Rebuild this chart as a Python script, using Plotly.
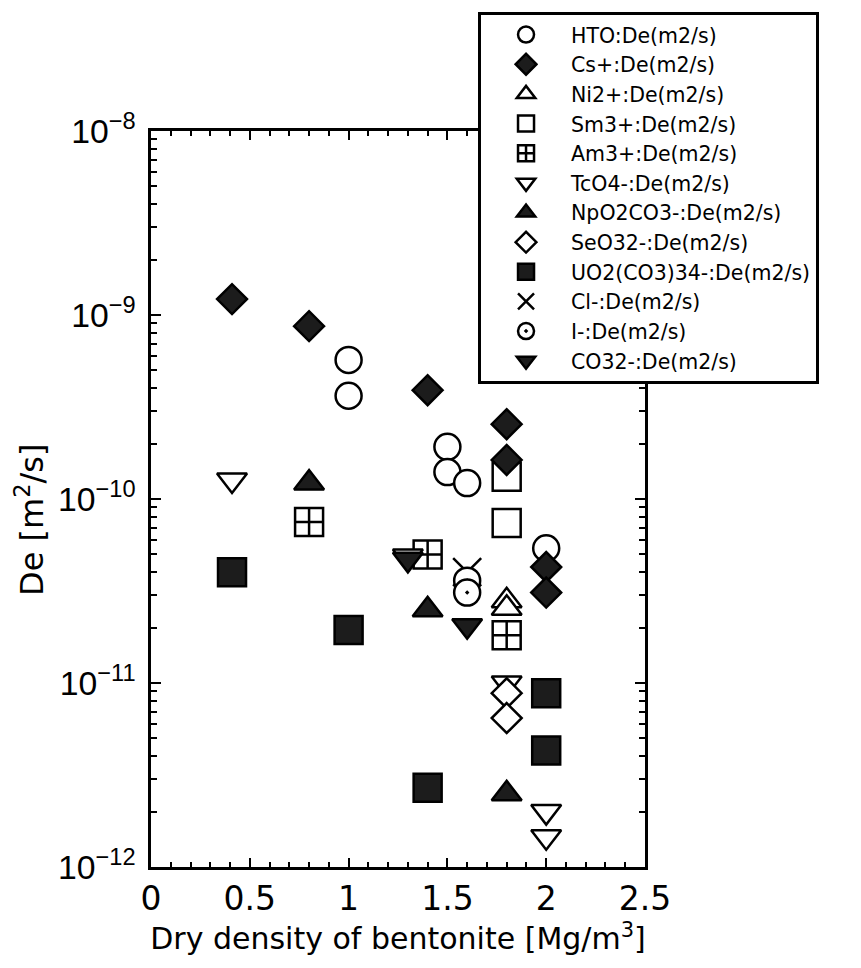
import plotly.graph_objects as go

# ---- data (dry density [Mg/m3], De [m2/s]) ----
species = ["HTO:De(m2/s)", "Cs+:De(m2/s)", "Ni2+:De(m2/s)", "Sm3+:De(m2/s)",
           "Am3+:De(m2/s)", "TcO4-:De(m2/s)", "NpO2CO3-:De(m2/s)", "SeO32-:De(m2/s)",
           "UO2(CO3)34-:De(m2/s)", "Cl-:De(m2/s)", "I-:De(m2/s)", "CO32-:De(m2/s)"]

hto_x = [1.0, 1.0, 1.5, 1.5, 1.6, 2.0]
hto_y = [5.7e-10, 3.64e-10, 1.92e-10, 1.4e-10, 1.22e-10, 5.4e-11]
cs_x = [0.41, 0.8, 1.4, 1.8, 1.8, 2.0, 2.0]
cs_y = [1.22e-9, 8.7e-10, 3.9e-10, 2.55e-10, 1.63e-10, 4.27e-11, 3.1e-11]
ni_x = [1.8, 1.8]
ni_y = [2.8e-11, 2.55e-11]
sm_x = [1.8, 1.8]
sm_y = [1.32e-10, 7.4e-11]
am_x = [0.8, 1.4, 1.8]
am_y = [7.5e-11, 5.0e-11, 1.82e-11]
tc_x = [0.41, 1.3, 1.8, 2.0, 2.0]
tc_y = [1.27e-10, 4.9e-11, 1.0e-11, 2.0e-12, 1.46e-12]
np_x = [0.8, 1.4, 1.8]
np_y = [1.22e-10, 2.5e-11, 2.5e-12]
se_x = [1.8, 1.8]
se_y = [8.8e-12, 6.45e-12]
uo_x = [0.41, 1.0, 1.4, 2.0, 2.0]
uo_y = [4.0e-11, 1.94e-11, 2.7e-12, 8.8e-12, 4.3e-12]
cl_x = [1.6]
cl_y = [4.0e-11]
i_x = [1.6, 1.6]
i_y = [3.6e-11, 3.1e-11]
co_x = [1.3, 1.6]
co_y = [4.7e-11, 2.05e-11]

x_tick_vals = [0, 0.5, 1, 1.5, 2, 2.5]
x_tick_text = ["0", "0.5", "1", "1.5", "2", "2.5"]
y_title = "De [m<sup>2</sup>/s]"
x_title = "Dry density of bentonite [Mg/m<sup>3</sup>]"

xs = [hto_x, cs_x, ni_x, sm_x, am_x, tc_x, np_x, se_x, uo_x, cl_x, i_x, co_x]
ys = [hto_y, cs_y, ni_y, sm_y, am_y, tc_y, np_y, se_y, uo_y, cl_y, i_y, co_y]

DARK = "#1c1c1c"
styles = [
    dict(symbol="circle", size=26, color="white"),
    dict(symbol="diamond", size=23, color=DARK),
    dict(symbol="triangle-up", size=26, color="white"),
    dict(symbol="square", size=28, color="white"),
    dict(symbol="square-cross", size=28, color="white"),
    dict(symbol="triangle-down", size=26, color="white"),
    dict(symbol="triangle-up", size=26, color=DARK),
    dict(symbol="diamond", size=23, color="white"),
    dict(symbol="square", size=28, color=DARK),
    dict(symbol="x-thin", size=28, color="black"),
    dict(symbol="circle-dot", size=26, color="white"),
    dict(symbol="triangle-down", size=26, color=DARK),
]

# drawing order (Cs+ drawn on top), legend keeps the original order
draw_order = [0, 2, 3, 4, 5, 6, 7, 8, 9, 10, 11, 1]

fig = go.Figure()
for k in draw_order:
    st = styles[k]
    fig.add_trace(go.Scatter(
        x=xs[k], y=ys[k], mode="markers", name=species[k], legendrank=k + 1,
        marker=dict(symbol=st["symbol"], size=st["size"], color=st["color"],
                    line=dict(color="black", width=2.5)),
    ))

FONT = "DejaVu Sans"
YFONT = "Liberation Sans"
fig.update_layout(
    width=861, height=968,
    margin=dict(l=143, r=224, t=123, b=109, autoexpand=False),
    paper_bgcolor="white", plot_bgcolor="white",
    font=dict(family=FONT, color="black", size=20),
    showlegend=True,
    legend=dict(
        x=0.662, y=1.162, xanchor="left", yanchor="top",
        bgcolor="white", bordercolor="black", borderwidth=3,
        font=dict(family=FONT, size=20.5, color="black"),
        itemsizing="trace", tracegroupgap=0, itemwidth=80,
    ),
    xaxis=dict(
        range=[0, 2.5], tickmode="array", tickvals=x_tick_vals, ticktext=x_tick_text,
        ticks="inside", ticklen=9, tickwidth=2, tickcolor="black",
        showline=True, linecolor="black", linewidth=3, mirror="ticks",
        showgrid=False, zeroline=False, automargin=False,
        tickfont=dict(family=FONT, size=33),
        minor=dict(ticks="inside", ticklen=5, tickwidth=2, dtick=0.1, tickcolor="black", showgrid=False),
        title=dict(text=x_title, font=dict(family=FONT, size=30), standoff=8),
    ),
    yaxis=dict(
        type="log", range=[-12, -8], dtick=1, exponentformat="power",
        ticks="inside", ticklen=10, tickwidth=2, tickcolor="black",
        showline=True, linecolor="black", linewidth=3, mirror="ticks",
        showgrid=False, zeroline=False, automargin=False,
        tickfont=dict(family=YFONT, size=27), ticklabelstandoff=7,
        minor=dict(ticks="inside", ticklen=6, tickwidth=2, dtick="D1", tickcolor="black", showgrid=False),
    ),
    annotations=[dict(
        text=y_title, textangle=-90, xref="paper", yref="paper",
        x=-0.245, y=0.4715, xanchor="center", yanchor="middle", showarrow=False,
        font=dict(family=FONT, size=32, color="black"),
    )],
)

fig.write_html("out.html")
